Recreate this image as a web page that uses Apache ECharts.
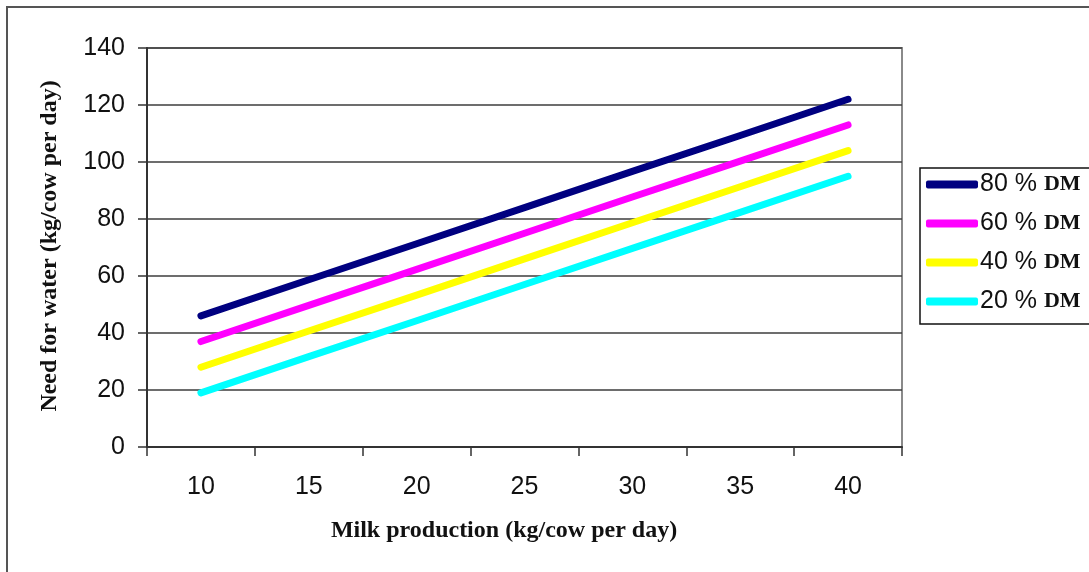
<!DOCTYPE html>
<html>
<head>
<meta charset="utf-8">
<script src="https://cdn.jsdelivr.net/npm/echarts@6/dist/echarts.min.js"></script>
<style>
  html, body { margin: 0; padding: 0; background: #fff; }
  #chart { width: 1089px; height: 572px; }
</style>
</head>
<body>
<div id="chart"></div>
<script>
// Milk production categories (kg/cow per day)
const milkProduction = ['10', '15', '20', '25', '30', '35', '40'];

// Water need (kg/cow per day) for each dry-matter level
const dm80 = [46, 58.7, 71.3, 84, 96.7, 109.3, 122];
const dm60 = [37, 49.7, 62.3, 75, 87.7, 100.3, 113];
const dm40 = [28, 40.7, 53.3, 66, 78.7, 91.3, 104];
const dm20 = [19, 31.7, 44.3, 57, 69.7, 82.3, 95];

const seriesNames = ['80 % DM', '60 % DM', '40 % DM', '20 % DM'];
const seriesColors = ['#000080', '#ff00ff', '#ffff00', '#00ffff'];
const seriesData = [dm80, dm60, dm40, dm20];

const yTicks = { min: 0, max: 140, interval: 20 };

const sans = '"Liberation Sans", Arial, sans-serif';
const serif = '"Liberation Serif", "Times New Roman", serif';

const chart = echarts.init(document.getElementById('chart'), null, { renderer: 'canvas' });

chart.setOption({
  animation: false,
  backgroundColor: '#ffffff',
  grid: {
    left: 147, top: 48, right: 187, bottom: 125,
    show: true, borderColor: '#8a8a8a', borderWidth: 2, backgroundColor: 'transparent'
  },
  xAxis: {
    type: 'category',
    data: milkProduction,
    boundaryGap: true,
    axisLine: { lineStyle: { color: '#333', width: 2 } },
    axisTick: { show: true, length: 9, alignWithLabel: false, lineStyle: { color: '#333', width: 1.5 } },
    axisLabel: { fontFamily: sans, fontSize: 25, color: '#111', margin: 28 },
    splitLine: { show: false }
  },
  yAxis: {
    type: 'value',
    min: yTicks.min, max: yTicks.max, interval: yTicks.interval,
    axisLine: { show: true, lineStyle: { color: '#333', width: 2 } },
    axisTick: { show: true, length: 9, lineStyle: { color: '#333', width: 1.5 } },
    axisLabel: { fontFamily: sans, fontSize: 25, color: '#111', margin: 22 },
    splitLine: { show: true, lineStyle: { color: '#3c3c3c', width: 1.5 } }
  },
  legend: {
    orient: 'vertical',
    left: 920, top: 168,
    data: seriesNames,
    icon: 'roundRect',
    itemWidth: 52, itemHeight: 8,
    itemGap: 14,
    padding: [4, 30, 10, 6],
    borderColor: '#111', borderWidth: 1.5,
    backgroundColor: '#fff',
    formatter: function (name) {
      const parts = name.split(' DM');
      return '{a|' + parts[0] + ' }{b|DM}';
    },
    textStyle: {
      padding: [0, 0, 0, -3],
      rich: {
        a: { fontFamily: sans, fontSize: 25, color: '#111' },
        b: { fontFamily: serif, fontSize: 22, fontWeight: 'bold', color: '#111' }
      }
    }
  },
  series: seriesData.map(function (values, i) {
    return {
      name: seriesNames[i],
      type: 'line',
      data: values,
      symbol: 'none',
      color: seriesColors[i],
      lineStyle: { color: seriesColors[i], width: 7, cap: 'round', join: 'round' },
      z: 10 - i
    };
  }),
  graphic: [
    {
      type: 'rect',
      shape: { x: 7, y: 7, width: 1200, height: 700 },
      style: { fill: 'none', stroke: '#555', lineWidth: 2 },
      silent: true, z: -1
    },
    {
      type: 'text',
      x: 50, y: 246,
      rotation: Math.PI / 2,
      style: {
        text: 'Need for water (kg/cow per day)',
        font: 'bold 24px ' + serif,
        fill: '#111', align: 'center', verticalAlign: 'middle'
      }
    },
    {
      type: 'text',
      x: 504, y: 531,
      style: {
        text: 'Milk production (kg/cow per day)',
        font: 'bold 24px ' + serif,
        fill: '#111', align: 'center', verticalAlign: 'middle'
      }
    }
  ]
});
</script>
</body>
</html>
